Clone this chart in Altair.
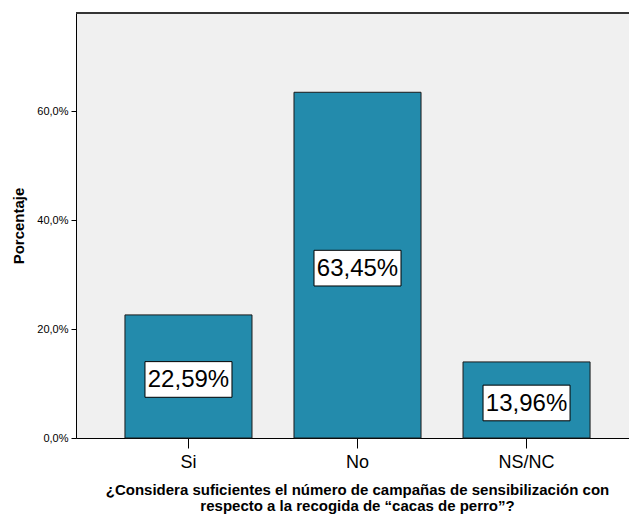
import altair as alt
import pandas as pd

categories = ["Si", "No", "NS/NC"]
values = [22.59, 63.45, 13.96]
value_labels = ["22,59%", "63,45%", "13,96%"]
y_ticks = [0, 20, 40, 60]

df = pd.DataFrame({"cat": categories, "pct": values, "label": value_labels})

x_title = ["¿Considera suficientes el número de campañas de sensibilización con",
           "respecto a la recogida de “cacas de perro”?"]

xscale = alt.Scale(domain=categories, paddingInner=0.2485, paddingOuter=0.26, align=0.557)
yscale = alt.Scale(domain=[0, 78], nice=False, zero=True)

base = alt.Chart(df)

bars = base.mark_bar(color="#238BAC", stroke="#1a1a1a", strokeWidth=1).encode(
    x=alt.X("cat:N", scale=xscale, sort=categories,
            axis=alt.Axis(title=x_title, labelAngle=0, labelFontSize=18, labelColor="black",
                          labelFont="Liberation Sans", tickSize=10, tickColor="black",
                          domainColor="black", labelPadding=5, titleFontSize=15,
                          titleFont="Liberation Sans", titleFontWeight="bold",
                          titleColor="black", titleLineHeight=16, titlePadding=11,
                          titleX=281)),
    y=alt.Y("pct:Q", scale=yscale,
            axis=alt.Axis(title="Porcentaje", values=y_ticks, grid=False,
                          labelExpr="replace(format(datum.value, '.1f'), '.', ',') + '%'",
                          labelFontSize=11, labelColor="black", labelFont="Liberation Sans",
                          tickSize=5, tickColor="black", domainColor="black",
                          labelPadding=3, titleFontSize=15, titleFont="Liberation Sans",
                          titleFontWeight="bold", titleColor="black", titlePadding=10)),
)

box_shape = "M-1,-0.41L1,-0.41L1,0.41L-1,0.41Z"

boxes = base.transform_calculate(mid="datum.pct / 2").mark_point(
    shape=box_shape, size=7569, filled=True, fill="white", stroke="black",
    strokeWidth=1, opacity=1, yOffset=3
).encode(
    x=alt.X("cat:N", scale=xscale, sort=categories),
    y=alt.Y("mid:Q", scale=yscale),
)

texts = base.transform_calculate(mid="datum.pct / 2").mark_text(
    fontSize=24, font="Liberation Sans", color="black", baseline="middle",
    align="center", yOffset=4
).encode(
    x=alt.X("cat:N", scale=xscale, sort=categories),
    y=alt.Y("mid:Q", scale=yscale),
    text="label:N",
)

top_line = alt.Chart(df).mark_rule(color="#333333", strokeWidth=1.5).encode(
    x=alt.value(0), x2=alt.value(553), y=alt.value(0)
)

chart = alt.layer(bars, boxes, texts, top_line).properties(
    width=553, height=425,
    autosize=alt.AutoSizeParams(type="none"),
    padding={"left": 68, "top": 5, "right": 0, "bottom": 77},
    background="white",
).configure_view(fill="#F0F0F0", stroke=None)

chart.save("out.html", embed_options={"renderer": "svg", "actions": False})
